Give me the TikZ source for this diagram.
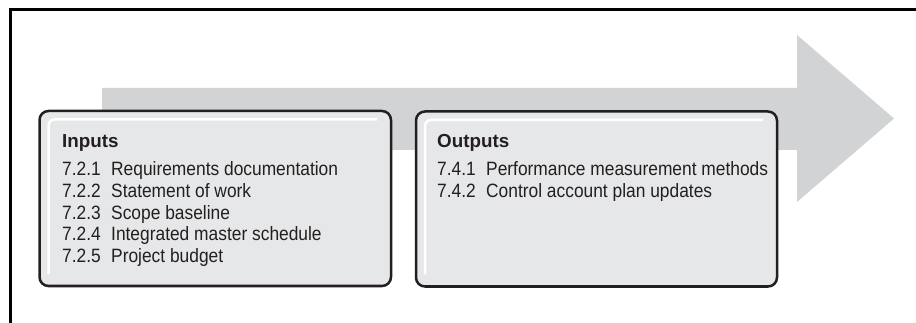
\documentclass[tikz,border=0pt]{standalone}
\usepackage{fontspec}
\newfontfamily\bodyfont{Liberation Sans}[FakeStretch=0.9]
\newfontfamily\headfont{Liberation Sans}
\definecolor{arrowgray}{HTML}{D1D3D4}
\definecolor{boxfill}{HTML}{E6E7E8}
\definecolor{ink}{HTML}{231F20}
\tikzset{
  panel/.style={draw=ink, fill=boxfill, line width=2.5pt, rounded corners=9pt,
    anchor=north west, inner sep=0pt, outer sep=0pt},
  sheen/.style={draw=white, line width=2.5pt, rounded corners=6pt},
  heading/.style={anchor=base west, inner sep=0pt, text=ink,
    font={\headfont\bfseries\fontsize{18.8}{22}\selectfont}},
  item/.style={anchor=base west, inner sep=0pt, text=ink,
    font={\bodyfont\fontsize{19.3}{22}\selectfont}}
}
\newcommand{\numbered}[2]{\makebox[49pt][l]{#1}#2}
\begin{document}
\begin{tikzpicture}[x=1pt,y=-1pt]
\useasboundingbox (0,0) rectangle (916,323);
\clip (0,0) rectangle (916,323);

% outer frame
\draw[line width=3pt, black] (10.5,9.5) rectangle (940,345);

% process arrow behind the panels
\fill[arrowgray] (102,88) -- (797,88) -- (797,35) -- (894,118.5)
  -- (797,202) -- (797,150) -- (102,150) -- cycle;

% panels
\node[panel, minimum width=351.5pt, minimum height=175pt] (inbox) at (39.5,111) {};
\node[panel, minimum width=361pt, minimum height=175pt] (outbox) at (416,111.5) {};

% highlight along top and left inner edges
\foreach \b in {inbox,outbox}{
  \draw[sheen] ([xshift=9pt,yshift=12pt]\b.south west)
    -- ([xshift=9pt,yshift=-8.5pt]\b.north west)
    -- ([xshift=-14pt,yshift=-8.5pt]\b.north east);
}

% inputs
\node[heading] (inhead) at (62,148) {Inputs};
\foreach \n/\t [count=\i] in {
  7.2.1/Requirements documentation,
  7.2.2/Statement of work,
  7.2.3/Scope baseline,
  7.2.4/Integrated master schedule,
  7.2.5/Project budget}{
  \node[item] (in\i) at (62,{176+21.6*(\i-1)}) {\numbered{\n}{\t}};
}

% outputs
\node[heading] (outhead) at (437,148) {Outputs};
\foreach \n/\t [count=\i] in {
  7.4.1/Performance measurement methods,
  7.4.2/Control account plan updates}{
  \node[item] (out\i) at (437,{176+21.6*(\i-1)}) {\numbered{\n}{\t}};
}
\end{tikzpicture}
\end{document}
